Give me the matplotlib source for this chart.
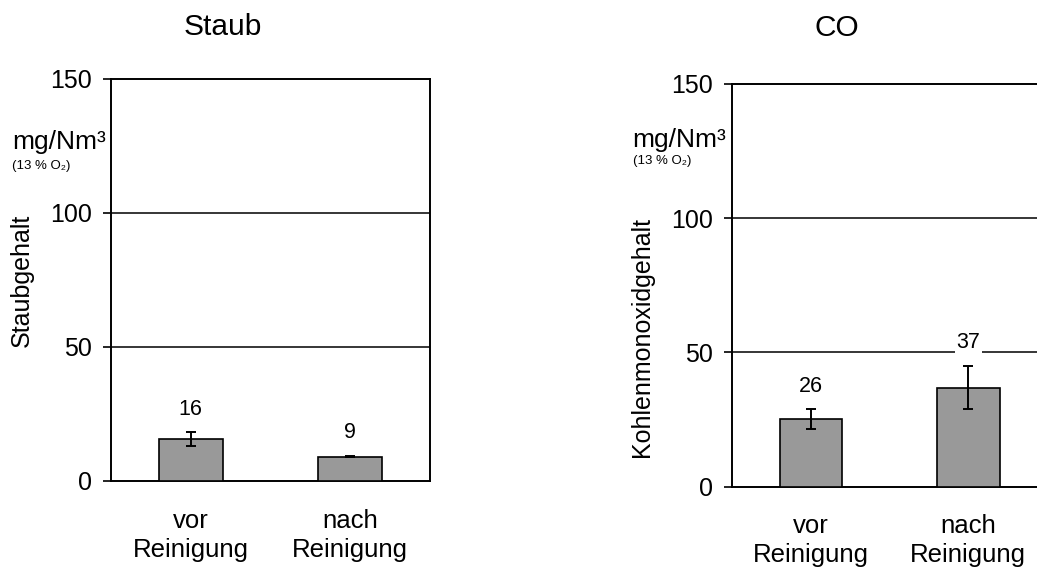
import numpy as np
import matplotlib.pyplot as plt

plt.rcParams['font.family'] = ['Liberation Sans', 'DejaVu Sans']

# Werte (mg/Nm³ bei 13 % O2)
categories = ["vor\nReinigung", "nach\nReinigung"]

staub_values = [15.6, 9.1]
staub_err = [2.6, 0.3]
staub_labels = ["16", "9"]

co_values = [25.2, 36.9]
co_err = [3.6, 8.1]
co_labels = ["26", "37"]

yticks = [0, 50, 100, 150]

W, H = 1037, 572
fig = plt.figure(figsize=(W / 100, H / 100), dpi=100)


def px(x, y):
    return x / W, 1 - y / H


def bar_panel(rect, values, errs, labels, right_spine=True):
    ax = fig.add_axes(rect)
    x = np.arange(len(values))
    ax.bar(x, values, width=0.4, color="#999999", edgecolor="black",
           linewidth=1.2, zorder=3)
    ax.errorbar(x, values, yerr=errs, fmt="none", ecolor="black",
                elinewidth=1.4, capsize=3.5, capthick=1.4, zorder=4)
    for xi, v, e, lab in zip(x, values, errs, labels):
        ax.annotate(lab, (xi, v + e), xytext=(0, 16.5), textcoords="offset points",
                    ha="center", va="center", fontsize=15.5, zorder=5,
                    bbox=dict(facecolor="white", edgecolor="none", pad=1))
    ax.set_xlim(-0.5, len(values) - 0.5)
    ax.set_ylim(0, 150)
    ax.set_yticks(yticks)
    ax.set_xticks(x)
    ax.set_xticklabels(categories, fontsize=18.5, linespacing=1.25)
    ax.tick_params(axis="x", length=0, pad=20)
    ax.tick_params(axis="y", length=6, width=1.2, labelsize=18, pad=8)
    for y in (50, 100):
        ax.axhline(y, color="black", linewidth=1.1, zorder=1)
    for side in ax.spines.values():
        side.set_linewidth(1.4)
    ax.spines["right"].set_visible(right_spine)
    return ax


ax1 = bar_panel([111 / W, 1 - 481 / H, 319 / W, 402 / H],
                staub_values, staub_err, staub_labels)
ax2 = bar_panel([732.3 / W, 1 - 486.7 / H, 314.7 / W, 402.7 / H],
                co_values, co_err, co_labels, right_spine=False)

# Titel
fig.text(*px(222.5, 27), "Staub", ha="center", va="center", fontsize=21.5)
fig.text(*px(836.5, 28), "CO", ha="center", va="center", fontsize=21.5)

# Einheiten
fig.text(*px(12, 149), "mg/Nm³", ha="left", va="baseline", fontsize=19)
fig.text(*px(12, 166), "(13 % O₂)", ha="left", va="center", fontsize=9.5)
fig.text(*px(632.7, 147), "mg/Nm³", ha="left", va="baseline", fontsize=19)
fig.text(*px(632.7, 161), "(13 % O₂)", ha="left", va="center", fontsize=9.5)

# Achsentitel
fig.text(*px(22, 280), "Staubgehalt", rotation=90, ha="center", va="center",
         fontsize=18)
fig.text(*px(642, 337), "Kohlenmonoxidgehalt", rotation=90, ha="center",
         va="center", fontsize=18)

fig.savefig("out.png", dpi=100)
